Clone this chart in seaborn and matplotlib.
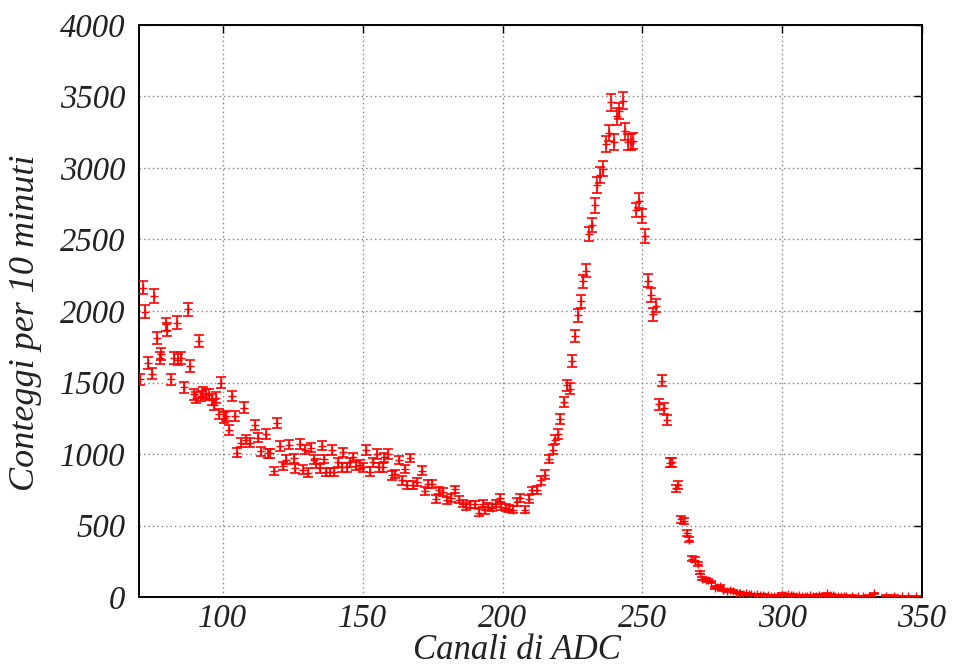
import numpy as np
import pandas as pd
import matplotlib
matplotlib.use("Agg")
import matplotlib.pyplot as plt
import seaborn as sns

# ADC channel (x) and counts per 10 minutes (y)
channels = [
    70.5, 71.3, 72.1, 73.3, 74.5, 75.5, 76.4, 77.6, 78.0, 79.6, 80.0, 81.4, 82.4, 83.6, 83.8,
    85.0, 86.2, 87.4, 88.3, 89.5, 90.3, 91.5, 92.0, 93.0, 93.8, 95.0, 96.2, 96.8, 97.4, 98.7,
    99.3, 100.5, 101.0, 102.3, 103.4, 104.3, 105.2, 106.4, 107.4, 108.2, 109.8, 111.4, 112.4,
    113.8, 115.4, 116.0, 116.9, 118.4, 119.4, 120.6, 121.6, 122.6, 123.5, 125.5, 125.7, 127.4,
    128.6, 129.2, 130.4, 131.4, 132.6, 133.4, 134.6,
    135.4, 136.0, 137.0, 138.3, 139.0, 139.7, 141.3, 142.5, 142.9, 144.3, 145.5, 146.7, 147.6,
    149.0, 150.0, 151.0, 152.6, 153.6, 155.0, 156.0, 157.1, 157.6, 158.9, 160.4, 161.5, 163.1,
    163.9, 165.1, 166.0, 166.9, 168.1, 169.3, 171.1, 172.3, 173.5, 174.6, 176.2, 177.4, 178.6,
    180.0, 181.5, 183.0, 184.5, 186.0, 187.1, 188.3, 190.1, 191.7, 192.9, 193.7, 194.9, 196.1,
    197.6, 199.0, 199.6, 201.2, 202.4, 203.6, 205.0, 206.2, 208.0, 209.5, 210.7, 212.4, 213.6,
    215.1, 216.7, 217.9, 218.9, 219.8, 220.7, 221.9, 223.1, 224.0, 224.9, 226.0, 226.9, 228.0,
    228.9, 229.9, 231.0, 231.9, 232.9, 233.9, 234.9, 235.9, 236.9, 237.9, 238.8, 239.9, 240.8,
    241.8, 242.9, 243.8, 244.8, 245.8, 246.8, 247.7, 248.8, 249.8, 251.0, 251.9, 253.0, 253.9,
    254.9, 256.0, 256.9, 257.9, 258.9, 259.9, 260.7, 261.9, 262.9, 263.7, 264.9, 265.8, 266.8,
    267.9, 268.8, 269.8, 270.6, 271.5, 272.7, 273.6, 274.4, 276.0, 276.8, 277.7, 278.9, 280.1,
    281.3, 282.5, 283.5, 284.6,
    285, 286, 287, 288, 289, 290, 291, 292, 293, 294, 295, 296, 297, 298, 299, 300, 301, 302,
    303, 304, 305, 306, 307, 308, 309, 310, 311, 312, 313, 314, 315, 316, 317, 318, 319, 320,
    321, 322, 323, 325, 327, 329, 331, 333, 337, 340, 343, 345, 348,
]
counts = [
    1522, 2163, 1995, 1638, 1562, 2105, 1809, 1673, 1700, 1907, 1870, 1522, 1673, 1918, 1660,
    1670, 1468, 2012, 1615, 1417, 1395, 1790, 1405, 1430, 1420, 1415, 1380, 1345, 1395, 1277,
    1498, 1255, 1265, 1166, 1406, 1265, 1009, 1080, 1325, 1100, 1080, 1205, 1115,
    1020, 1140, 1005, 1005, 881, 1220, 1055, 915, 960, 1065, 970, 900, 1070,
    890, 1030, 870, 1045, 960, 935, 900,
    1058, 965, 873, 873, 1028, 873, 942, 907, 1012, 907, 942, 977, 919,
    926, 907, 1028, 877, 942, 1000, 907, 907, 977, 1000, 850, 861, 958,
    815, 896, 785, 972, 785, 803, 884, 741, 787, 787, 687, 745, 734,
    676, 694, 752, 680, 653, 630, 648, 648, 588, 653, 606, 630, 623,
    653, 694, 630, 625, 618, 611, 664, 694, 611, 687, 745, 750, 815,
    856, 965, 1030, 1100, 1140, 1247, 1364, 1481, 1458, 1649, 1823, 1970, 2067,
    2207, 2283, 2539, 2601, 2741, 2880, 2950, 2996, 3166, 3245, 3460, 3182, 3361,
    3398, 3472, 3256, 3182, 3182, 3187, 2706, 2771, 2664, 2525, 2212, 2112, 1977,
    2037, 1347, 1512, 1319, 1237, 938, 941, 759, 782, 542, 532, 449, 402,
    269, 262, 229, 171, 129, 122, 117, 105, 64, 70, 75, 47, 42,
    47, 42, 31, 31,
    28, 22, 25, 18, 20, 15, 18, 12, 14, 10, 12, 8, 10, 6, 9, 22, 15, 18,
    12, 14, 10, 12, 8, 10, 6, 12, 9, 7, 14, 10, 8, 25, 15, 12, 10, 8,
    10, 6, 5, 8, 6, 7, 10, 25, 10, 8, 7, 6, 6,
]

x_ticks = [100, 150, 200, 250, 300, 350]
y_ticks = [0, 500, 1000, 1500, 2000, 2500, 3000, 3500, 4000]

df = pd.DataFrame({"canale": channels, "conteggi": counts})
df["err"] = np.sqrt(df["conteggi"])

sns.set_style("white")
plt.rcParams["font.family"] = ["Liberation Serif", "DejaVu Serif"]

fig = plt.figure(figsize=(9.57, 6.67), dpi=100)
ax = fig.add_axes([139 / 957, 1 - 597 / 667, (922 - 139) / 957, (597 - 25) / 667])

ax.errorbar(df["canale"], df["conteggi"], yerr=df["err"], fmt="none",
            ecolor="#ff0000", elinewidth=1.2, capsize=3.6, capthick=1.2, zorder=3)
sns.scatterplot(data=df, x="canale", y="conteggi", marker="+", color="#ff0000",
                s=40, linewidth=1.0, ax=ax, zorder=4, legend=False)

ax.set_xlim(70, 350)
ax.set_ylim(0, 4000)
ax.set_xticks(x_ticks)
ax.set_yticks(y_ticks)
ax.set_xticklabels([str(t) for t in x_ticks])
ax.set_yticklabels([str(t) for t in y_ticks])

ax.grid(True, color="#808080", linestyle=(0, (1, 2.2)), linewidth=1.0)
ax.set_axisbelow(True)

for s in ax.spines.values():
    s.set_color("black")
    s.set_linewidth(1.4)

ax.tick_params(direction="in", length=6, width=1.0, top=True, right=True,
               labelsize=23.5, colors="black", labelcolor="#222222")
ax.tick_params(axis="y", pad=10)
ax.tick_params(axis="x", pad=5)
for lab in ax.get_xticklabels() + ax.get_yticklabels():
    lab.set_fontstyle("italic")

ax.set_xlabel("Canali di ADC", fontsize=25, fontstyle="italic", color="#222222", labelpad=0)
ax.set_ylabel("Conteggi per 10 minuti", fontsize=26, fontstyle="italic", color="#222222", labelpad=13)
ax.xaxis.label.set_x(0.483)
ax.yaxis.label.set_y(0.479)

fig.savefig("out.png", dpi=100)
